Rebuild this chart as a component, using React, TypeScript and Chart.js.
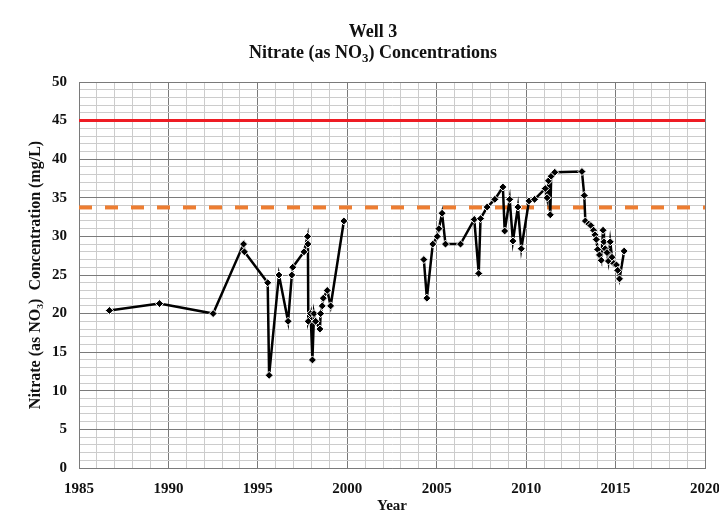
import React, { useEffect, useRef } from "react";
import { Chart, registerables } from "chart.js";

Chart.register(...registerables);

const titleLine1 = "Well 3";
const titleLine2a = "Nitrate (as NO";
const titleLine2sub = "3";
const titleLine2b = ") Concentrations";
const yAxisTitle = "Nitrate (as NO\u2083)  Concentration (mg/L)";
const xAxisTitle = "Year";

// sampling dates (decimal year); null value breaks the line (no data 2000-2004)
const years = [
  1986.7, 1989.5, 1992.5, 1994.2, 1994.25, 1995.55, 1995.63, 1996.18, 1996.69, 1996.9,
  1996.95, 1997.58, 1997.78, 1997.8, 1997.82, 1997.95, 1998.05, 1998.14, 1998.23, 1998.47,
  1998.51, 1998.6, 1998.66, 1998.88, 1999.07, 1999.81,
  2002,
  2004.28, 2004.45, 2004.78, 2005.03, 2005.12, 2005.3, 2005.49, 2006.33, 2007.1, 2007.35,
  2007.45, 2007.82, 2008.25, 2008.7, 2008.8, 2009.08, 2009.26, 2009.54, 2009.73, 2010.16,
  2010.47, 2011.07, 2011.17, 2011.25, 2011.35, 2011.4, 2011.6, 2013.12, 2013.25, 2013.31,
  2013.5, 2013.62, 2013.77, 2013.85, 2013.92, 2014.0, 2014.1, 2014.2, 2014.3, 2014.35,
  2014.42, 2014.52, 2014.6, 2014.7, 2014.8, 2014.9, 2015.05, 2015.12, 2015.22, 2015.48,
];
const nitrate = [
  20.4, 21.3, 20.0, 29.0, 28.0, 24.0, 12.0, 25.0, 19.0, 25.0,
  26.0, 28.0, 30.0, 29.0, 19.0, 20.0, 14.0, 20.0, 19.0, 18.0,
  20.0, 21.0, 22.0, 23.0, 21.0, 32.0,
  null,
  27.0, 22.0, 29.0, 30.0, 31.0, 33.0, 29.0, 29.0, 32.2, 25.2,
  32.3, 33.8, 34.8, 36.4, 30.7, 34.8, 29.4, 33.8, 28.4, 34.6,
  34.8, 36.2, 35.0, 37.2, 32.8, 37.8, 38.3, 38.4, 35.3, 32.0,
  31.6, 31.4, 30.8, 30.2, 29.6, 28.3, 27.6, 26.9, 30.8, 29.3,
  28.4, 27.9, 26.8, 29.3, 27.3, 26.5, 26.3, 25.6, 24.5, 28.1,
];

const mclValue = 45;
const triggerValue = 33.75;
const xRange = [1985, 2020];
const yRange = [0, 50];

const serif = "'Liberation Serif', 'Times New Roman', Times, serif";

const titlePlugin = {
  id: "twoLineTitle",
  afterDraw(chart: any) {
    const ctx = chart.ctx as CanvasRenderingContext2D;
    const cx = 373;
    ctx.save();
    ctx.fillStyle = "#111111";
    ctx.textBaseline = "alphabetic";
    ctx.font = `bold 18px ${serif}`;
    ctx.textAlign = "center";
    ctx.fillText(titleLine1, cx, 37);
    const wa = ctx.measureText(titleLine2a).width;
    const wb = ctx.measureText(titleLine2b).width;
    ctx.font = `bold 13px ${serif}`;
    const ws = ctx.measureText(titleLine2sub).width;
    const total = wa + ws + wb;
    let x = cx - total / 2;
    ctx.textAlign = "left";
    ctx.font = `bold 18px ${serif}`;
    ctx.fillText(titleLine2a, x, 58);
    x += wa;
    ctx.font = `bold 13px ${serif}`;
    ctx.fillText(titleLine2sub, x, 62);
    x += ws;
    ctx.font = `bold 18px ${serif}`;
    ctx.fillText(titleLine2b, x, 58);
    ctx.restore();
  },
};

export default function App() {
  const ref = useRef<HTMLCanvasElement | null>(null);

  useEffect(() => {
    document.body.style.margin = "0";
    const canvas = ref.current;
    if (!canvas) return;
    const points = years.map((x, i) => ({ x, y: nitrate[i] }));
    const chart = new Chart(canvas, {
      type: "line",
      data: {
        datasets: [
          {
            label: "Nitrate",
            data: points as any,
            borderColor: "#000000",
            borderWidth: 2.5,
            pointStyle: "rectRot",
            pointRadius: 4,
            pointBackgroundColor: "#000000",
            pointBorderColor: "#ffffff",
            pointBorderWidth: 1,
            spanGaps: false,
            tension: 0,
          },
          {
            label: "MCL",
            data: [
              { x: xRange[0], y: mclValue },
              { x: xRange[1], y: mclValue },
            ],
            borderColor: "#ee1c24",
            borderWidth: 3,
            pointRadius: 0,
          },
          {
            label: "Trigger",
            data: [
              { x: xRange[0], y: triggerValue },
              { x: xRange[1], y: triggerValue },
            ],
            borderColor: "#ed7d31",
            borderWidth: 4,
            borderDash: [13, 13],
            pointRadius: 0,
          },
        ],
      },
      options: {
        animation: false,
        responsive: false,
        maintainAspectRatio: false,
        layout: { padding: { top: 82, left: 0, right: 14, bottom: 0 } },
        plugins: {
          legend: { display: false },
          tooltip: { enabled: false },
          title: { display: false },
        },
        scales: {
          x: {
            type: "linear",
            min: xRange[0],
            max: xRange[1],
            afterFit(scale: any) {
              scale.height = 48;
              scale.paddingLeft = 0;
              scale.paddingRight = 0;
            },
            ticks: {
              stepSize: 1,
              autoSkip: false,
              maxTicksLimit: 100,
              maxRotation: 0,
              padding: 12,
              color: "#111111",
              font: { family: serif, size: 15, weight: "bold" },
              callback: (v: any) => (Number(v) % 5 === 0 ? String(v) : ""),
            },
            grid: {
              drawTicks: false,
              color: (c: any) => (c.tick && c.tick.value % 5 === 0 ? "#7a7a7a" : "#cccccc"),
              lineWidth: 1,
            },
            border: { display: true, color: "#7a7a7a" },
            title: {
              display: true,
              text: xAxisTitle,
              color: "#111111",
              font: { family: serif, size: 15, weight: "bold" },
              padding: { top: 0, bottom: 1 },
            },
          },
          y: {
            type: "linear",
            min: yRange[0],
            max: yRange[1],
            afterFit(scale: any) {
              scale.width = 79;
              scale.paddingTop = 0;
              scale.paddingBottom = 0;
            },
            ticks: {
              stepSize: 1,
              autoSkip: false,
              maxTicksLimit: 100,
              padding: 12,
              color: "#111111",
              font: { family: serif, size: 15, weight: "bold" },
              callback: (v: any) => (Number(v) % 5 === 0 ? String(v) : ""),
            },
            grid: {
              drawTicks: false,
              color: (c: any) => (c.tick && c.tick.value % 5 === 0 ? "#7a7a7a" : "#cccccc"),
              lineWidth: 1,
            },
            border: { display: true, color: "#7a7a7a" },
            title: {
              display: true,
              text: yAxisTitle,
              color: "#111111",
              font: { family: serif, size: 16, weight: "bold" },
              padding: { top: 26, bottom: 0 },
            },
          },
        },
      },
      plugins: [titlePlugin],
    });
    return () => chart.destroy();
  }, []);

  return (
    <div style={{ position: "absolute", left: 0, top: 0, width: 719, height: 516, background: "#ffffff" }}>
      <canvas ref={ref} width={719} height={516} style={{ width: 719, height: 516, display: "block" }} />
    </div>
  );
}
